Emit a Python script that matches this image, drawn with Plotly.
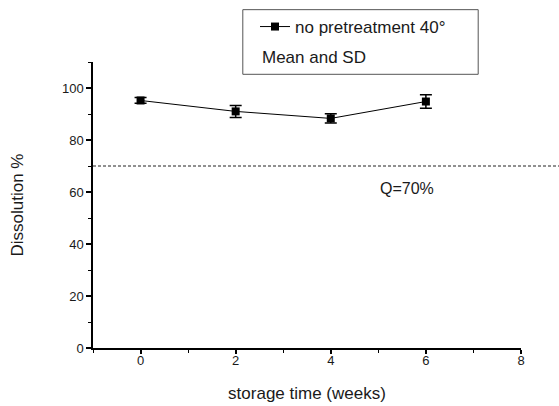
import plotly.graph_objects as go

weeks = [0, 2, 4, 6]
dissolution = [95.2, 91.0, 88.3, 94.8]
sd = [1.1, 2.3, 1.8, 2.6]
q_limit = 70
series_name = "no pretreatment 40°"
note_text = "Mean and SD"
q_label = "Q=70%"
x_ticks = [0, 2, 4, 6, 8]
y_ticks = [0, 20, 40, 60, 80, 100]

FONT = "Liberation Sans, Arial, sans-serif"
TXT = "#1a1a1a"

fig = go.Figure()
fig.add_trace(go.Scatter(
    x=weeks, y=dissolution, mode="lines+markers", name=series_name,
    line=dict(color="black", width=1),
    marker=dict(symbol="square", size=8, color="black"),
    error_y=dict(type="data", array=sd, visible=True, color="black", thickness=1.5, width=6),
    cliponaxis=False,
))

# reference line Q=70%
fig.add_shape(type="line", xref="paper", yref="y", x0=0, x1=1.09, y0=q_limit, y1=q_limit,
              line=dict(color="#222222", width=1, dash="3px,2px"))
fig.add_annotation(x=5.6, y=61.5, xref="x", yref="y", text=q_label, showarrow=False,
                   font=dict(family=FONT, size=16, color=TXT))

# legend box
fig.add_shape(type="rect", xref="paper", yref="paper", x0=0.350, x1=0.900, y0=0.957, y1=1.183,
              line=dict(color="#555555", width=1), fillcolor="rgba(0,0,0,0)")
fig.add_annotation(x=(260 - 93) / 428, y=(348.3 - 56.7) / 286.6, xref="paper", yref="paper",
                   xanchor="left", yanchor="middle", text=note_text, showarrow=False,
                   font=dict(family=FONT, size=17, color=TXT))

fig.update_layout(
    width=559, height=406,
    margin=dict(l=93, r=38, t=62, b=58),
    paper_bgcolor="white", plot_bgcolor="white",
    font=dict(family=FONT, color=TXT),
    showlegend=True,
    legend=dict(xref="paper", yref="container", x=(255 - 93) / 428, y=1 - 9 / 406,
                xanchor="left", yanchor="top",
                bgcolor="rgba(0,0,0,0)", borderwidth=0,
                font=dict(family=FONT, size=17, color=TXT)),
    xaxis=dict(range=[-1, 8], tickvals=x_ticks, showgrid=False, zeroline=False, automargin=False,
               showline=True, linecolor="black", linewidth=1.5,
               ticks="outside", ticklen=4, tickwidth=1.5, tickcolor="black",
               ticklabelstandoff=-4,
               tickfont=dict(family=FONT, size=13, color=TXT),
               minor=dict(dtick=1, tick0=0, ticks="outside", ticklen=3, tickwidth=1, tickcolor="black"),
               title=dict(text="storage time (weeks)", font=dict(family=FONT, size=17, color=TXT),
                          standoff=20)),
    yaxis=dict(range=[0, 110], tickvals=y_ticks, showgrid=False, zeroline=False, automargin=False,
               showline=True, linecolor="black", linewidth=1.5,
               ticks="outside", ticklen=5, tickwidth=1.5, tickcolor="black",
               tickfont=dict(family=FONT, size=13, color=TXT),
               minor=dict(dtick=10, tick0=0, ticks="outside", ticklen=3, tickwidth=1, tickcolor="black"),
               title=dict(text="Dissolution %", font=dict(family=FONT, size=17, color=TXT),
                          standoff=34)),
)

fig.write_html("out.html")
